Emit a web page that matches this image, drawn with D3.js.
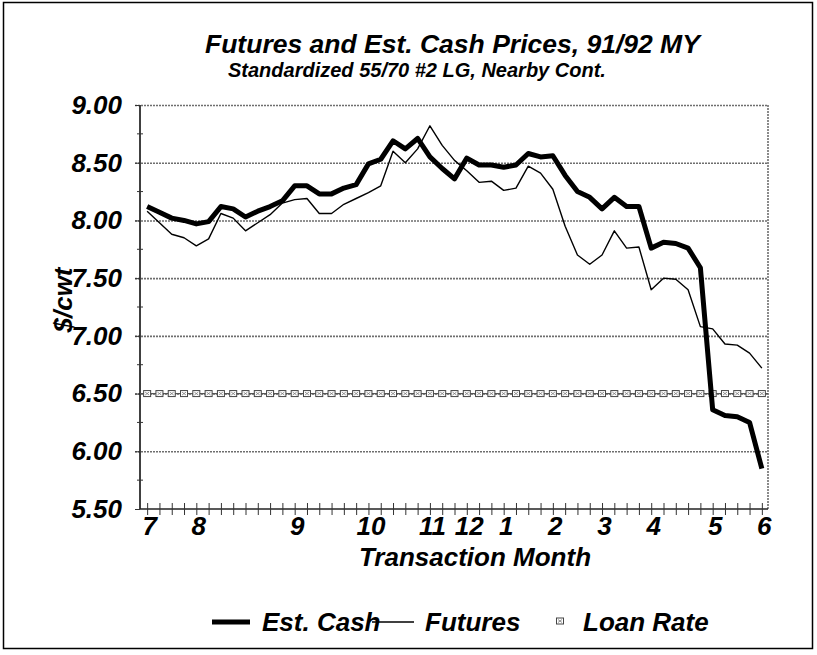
<!DOCTYPE html>
<html>
<head>
<meta charset="utf-8">
<script src="https://cdn.jsdelivr.net/npm/d3@7"></script>
<style>
    body { margin: 0; background: #fff; }
    text { font-family: "Liberation Sans", Arial, sans-serif; font-weight: bold; font-style: italic; fill: #000; }
</style>
</head>
<body>
<div id="chart"></div>
<script>
// weekly observations, July 1991 .. June 1992
var estCash = [8.12, 8.07, 8.02, 8.00, 7.97, 7.99, 8.12, 8.10, 8.03, 8.08,
    8.12, 8.17, 8.30, 8.30, 8.23, 8.23, 8.28, 8.31, 8.49, 8.53,
    8.69, 8.62, 8.71, 8.55, 8.45, 8.36, 8.54, 8.48, 8.48, 8.46,
    8.48, 8.58, 8.55, 8.56, 8.39, 8.25, 8.20, 8.10, 8.20, 8.12,
    8.12, 7.76, 7.81, 7.80, 7.76, 7.59, 6.36, 6.31, 6.30, 6.25, 5.85];

var futures = [8.08, 7.98, 7.88, 7.85, 7.78, 7.84, 8.06, 8.02, 7.91, 7.98,
    8.05, 8.15, 8.18, 8.19, 8.06, 8.06, 8.14, 8.19, 8.24, 8.30,
    8.60, 8.50, 8.62, 8.82, 8.65, 8.52, 8.43, 8.33, 8.34, 8.26,
    8.28, 8.47, 8.41, 8.27, 7.95, 7.70, 7.62, 7.70, 7.91, 7.76,
    7.77, 7.40, 7.50, 7.49, 7.40, 7.08, 7.06, 6.93, 6.92, 6.85, 6.72];

var loanRate = 6.50;

var monthLabels = ["7", "8", "9", "10", "11", "12", "1", "2", "3", "4", "5", "6"];
var monthWeek = [0, 4, 12, 18, 23, 26, 29, 33, 37, 41, 46, 50];

var yTicks = [5.50, 6.00, 6.50, 7.00, 7.50, 8.00, 8.50, 9.00];
var yMinor = [5.75, 6.25, 6.75, 7.25, 7.75, 8.25, 8.75];

var weeks = d3.range(estCash.length);

var plot = {left: 140, right: 768, top: 105, bottom: 509};

var svg = d3.select("#chart")
    .append("svg")
    .attr("width", 817)
    .attr("height", 655);

svg.append("rect")
    .attr("x", 3.5)
    .attr("y", 2.5)
    .attr("width", 809)
    .attr("height", 646)
    .style("fill", "none")
    .style("stroke", "#000")
    .style("stroke-width", 1.5);

var xScale = d3.scaleLinear()
    .domain([-0.5, estCash.length - 0.5])
    .range([plot.left + 1, plot.right]);

var yScale = d3.scaleLinear()
    .domain([5.5, 9])
    .range([plot.bottom, plot.top]);

// titles
svg.append("text")
    .attr("x", 205)
    .attr("y", 52.5)
    .style("font-size", "26.5px")
    .text("Futures and Est. Cash Prices, 91/92 MY");

svg.append("text")
    .attr("x", 228)
    .attr("y", 77)
    .style("font-size", "20px")
    .text("Standardized 55/70 #2 LG, Nearby Cont.");

// grid lines
svg.append("g")
    .attr("class", "grid")
    .attr("transform", "translate(" + plot.left + ",0)")
    .call(d3.axisLeft(yScale)
        .tickValues(yTicks.slice(1))
        .tickSize(-(plot.right - plot.left) - 5)
        .tickFormat(""))
    .call(function (g) { g.select(".domain").remove(); })
    .selectAll("line")
    .attr("transform", "translate(-5,0)")
    .style("stroke", "#6e6e6e")
    .style("stroke-width", 1.6)
    .style("stroke-dasharray", "2,1");

// right border
svg.append("line")
    .attr("x1", plot.right)
    .attr("x2", plot.right)
    .attr("y1", plot.top)
    .attr("y2", plot.bottom)
    .style("stroke", "#6e6e6e")
    .style("stroke-width", 1.6)
    .style("stroke-dasharray", "2,1");

// y axis
var yAxis = svg.append("g")
    .attr("class", "y axis")
    .attr("transform", "translate(" + plot.left + ",0)")
    .call(d3.axisLeft(yScale)
        .tickValues(yTicks)
        .tickSize(5)
        .tickPadding(13)
        .tickFormat(d3.format(".2f")));

yAxis.select(".domain")
    .attr("d", "M0," + plot.top + "V" + plot.bottom)
    .style("stroke", "#000")
    .style("stroke-width", 1.5);
yAxis.selectAll("line").style("stroke", "#333");
yAxis.selectAll("text")
    .style("font-size", "26px")
    .style("font-family", "'Liberation Sans', Arial, sans-serif");

svg.append("g")
    .selectAll("line")
    .data(yMinor)
    .enter().append("line")
    .attr("x1", plot.left - 3)
    .attr("x2", plot.left + 3)
    .attr("y1", function (d) { return yScale(d); })
    .attr("y2", function (d) { return yScale(d); })
    .style("stroke", "#333");

// x axis with a tick per week
var xAxis = svg.append("g")
    .attr("class", "x axis")
    .attr("transform", "translate(0," + plot.bottom + ")")
    .call(d3.axisBottom(xScale)
        .tickValues(weeks)
        .tickSize(6)
        .tickFormat(""));

xAxis.select(".domain")
    .attr("d", "M" + plot.left + ",0H" + plot.right)
    .style("stroke", "#222")
    .style("stroke-width", 1.5);
xAxis.selectAll(".tick line")
    .attr("y1", -6)
    .style("stroke", "#333");

var monthAxis = svg.append("g")
    .attr("transform", "translate(2," + plot.bottom + ")")
    .call(d3.axisBottom(xScale)
        .tickValues(monthWeek)
        .tickSize(0)
        .tickPadding(8)
        .tickFormat(function (d, i) { return monthLabels[i]; }));

monthAxis.select(".domain").remove();
monthAxis.selectAll("text")
    .style("font-size", "26px")
    .style("font-family", "'Liberation Sans', Arial, sans-serif");

// axis titles
svg.append("text")
    .attr("x", 475)
    .attr("y", 566)
    .attr("text-anchor", "middle")
    .style("font-size", "26px")
    .text("Transaction Month");

svg.append("text")
    .attr("transform", "translate(72,300) rotate(-90)")
    .attr("text-anchor", "middle")
    .style("font-size", "26px")
    .text("$/cwt");

// loan rate
svg.append("line")
    .attr("x1", plot.left)
    .attr("x2", plot.right)
    .attr("y1", yScale(loanRate))
    .attr("y2", yScale(loanRate))
    .style("stroke", "#555")
    .style("stroke-width", 1.2);

function drawMarker(g, cx, cy) {
    g.append("rect")
        .attr("x", cx - 3.5)
        .attr("y", cy - 3)
        .attr("width", 7)
        .attr("height", 6)
        .style("fill", "#fff")
        .style("stroke", "#444")
        .style("stroke-width", 1);
    g.append("path")
        .attr("d", "M" + (cx - 2) + "," + (cy - 1.5) + "L" + (cx + 2) + "," + (cy + 1.5) +
            "M" + (cx + 2) + "," + (cy - 1.5) + "L" + (cx - 2) + "," + (cy + 1.5))
        .style("stroke", "#777")
        .style("stroke-width", 0.8);
}

var markers = svg.append("g");
weeks.forEach(function (i) {
    drawMarker(markers, xScale(i), yScale(loanRate));
});

// price lines
var line = d3.line()
    .x(function (d, i) { return xScale(i); })
    .y(function (d) { return yScale(d); });

svg.append("path")
    .datum(futures)
    .attr("d", line)
    .style("fill", "none")
    .style("stroke", "#000")
    .style("stroke-width", 1.4)
    .style("stroke-linejoin", "round");

svg.append("path")
    .datum(estCash)
    .attr("d", line)
    .style("fill", "none")
    .style("stroke", "#000")
    .style("stroke-width", 5)
    .style("stroke-linejoin", "round");

// legend
var legY = 622;

svg.append("line")
    .attr("x1", 212).attr("x2", 250)
    .attr("y1", legY).attr("y2", legY)
    .style("stroke", "#000")
    .style("stroke-width", 5);

svg.append("text")
    .attr("x", 262)
    .attr("y", legY + 9)
    .style("font-size", "26px")
    .text("Est. Cash");

svg.append("line")
    .attr("x1", 372).attr("x2", 414)
    .attr("y1", legY).attr("y2", legY)
    .style("stroke", "#000")
    .style("stroke-width", 1.4);

svg.append("text")
    .attr("x", 425)
    .attr("y", legY + 9)
    .style("font-size", "26px")
    .text("Futures");

drawMarker(svg.append("g"), 560, legY - 1);

svg.append("text")
    .attr("x", 583)
    .attr("y", legY + 9)
    .style("font-size", "26px")
    .text("Loan Rate");
</script>
</body>
</html>
